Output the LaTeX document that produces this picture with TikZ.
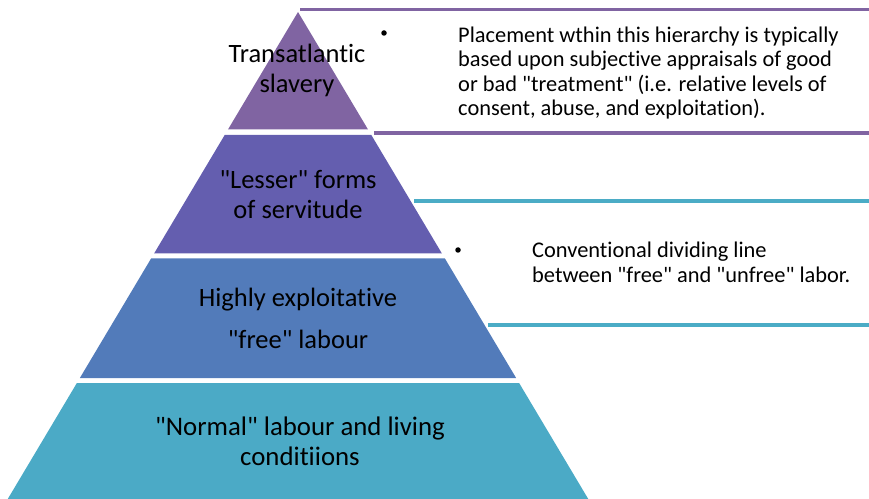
\documentclass[tikz,border=0pt]{standalone}
\usepackage{fontspec}
\setmainfont{Carlito}[Ligatures=NoCommon]
\definecolor{tierA}{RGB}{128,100,162}
\definecolor{tierB}{RGB}{100,94,175}
\definecolor{tierC}{RGB}{82,123,186}
\definecolor{tierD}{RGB}{75,170,198}
\definecolor{ruleP}{RGB}{128,100,162}
\definecolor{ruleT}{RGB}{75,172,198}
\newcommand\qt{\textquotedbl}
\begin{document}
\begin{tikzpicture}[x=1bp,y=-1bp,
  tierlabel/.style={align=center, anchor=base, inner sep=0pt, text=black},
  note/.style={align=left, anchor=base west, inner sep=0pt, text=black,
    font=\fontsize{22.4bp}{24.6bp}\selectfont},
  dot/.style={circle, fill=black, inner sep=0pt, minimum size=5.5bp},
  sep/.style={line width=3.8bp},
]
\useasboundingbox (0,0) rectangle (869,499);
% pyramid: apex (298,12), half width grows 0.596 per unit downwards
\def\ax{298}\def\ay{12}\def\sl{0.596}
\newcommand\tier[3]{%
  \fill[#3] ({\ax-\sl*(#1-\ay)},#1) -- ({\ax+\sl*(#1-\ay)},#1)
    -- ({\ax+\sl*(#2-\ay)},#2) -- ({\ax-\sl*(#2-\ay)},#2) -- cycle;}
\fill[tierA] (\ax,\ay) -- ({\ax+\sl*(129.5-\ay)},129.5) -- ({\ax-\sl*(129.5-\ay)},129.5) -- cycle;
\tier{135}{253.5}{tierB}
\tier{258.5}{378}{tierC}
\tier{383}{499}{tierD}

% separator rules on the right
\coordinate (r1a) at (300,9.5);   \coordinate (r1b) at (869,9.5);
\coordinate (r2a) at (374,133);   \coordinate (r2b) at (869,133);
\coordinate (r3a) at (414,201);   \coordinate (r3b) at (869,201);
\coordinate (r4a) at (488,325);   \coordinate (r4b) at (869,325);
\draw[sep, ruleP] (r1a) -- (r1b);
\draw[sep, ruleP] (r2a) -- (r2b);
\draw[sep, ruleT] (r3a) -- (r3b);
\draw[sep, ruleT] (r4a) -- (r4b);

% tier labels (anchored at the baseline of their last line)
\node[tierlabel, font=\fontsize{26.5bp}{30bp}\selectfont] (lab1) at (297,93) {Transatlantic\\slavery};
\node[tierlabel, font=\fontsize{26.5bp}{30bp}\selectfont] (lab2) at (298,219) {\qt Lesser\qt{} forms\\of servitude};
\node[tierlabel, font=\fontsize{26.5bp}{41bp}\selectfont] (lab3) at (298,348) {Highly exploitative\\\qt free\qt{} labour};
\node[tierlabel, font=\fontsize{26.8bp}{30bp}\selectfont] (lab4) at (300,465.5) {\qt Normal\qt{} labour and living\\conditiions};

% notes
\node[dot] (b1) at (384,33) {};
\node[note] (n1) at (458,116) {Placement wthin this hierarchy is typically\\based upon subjective appraisals of good\\or bad \qt treatment\qt{} (i.e. relative levels of\\consent, abuse, and exploitation).};
\node[dot] (b2) at (458,250) {};
\node[note] (n2) at (532,282.5) {Conventional dividing line\\between \qt free\qt{} and \qt unfree\qt{} labor.};
\end{tikzpicture}
\end{document}
